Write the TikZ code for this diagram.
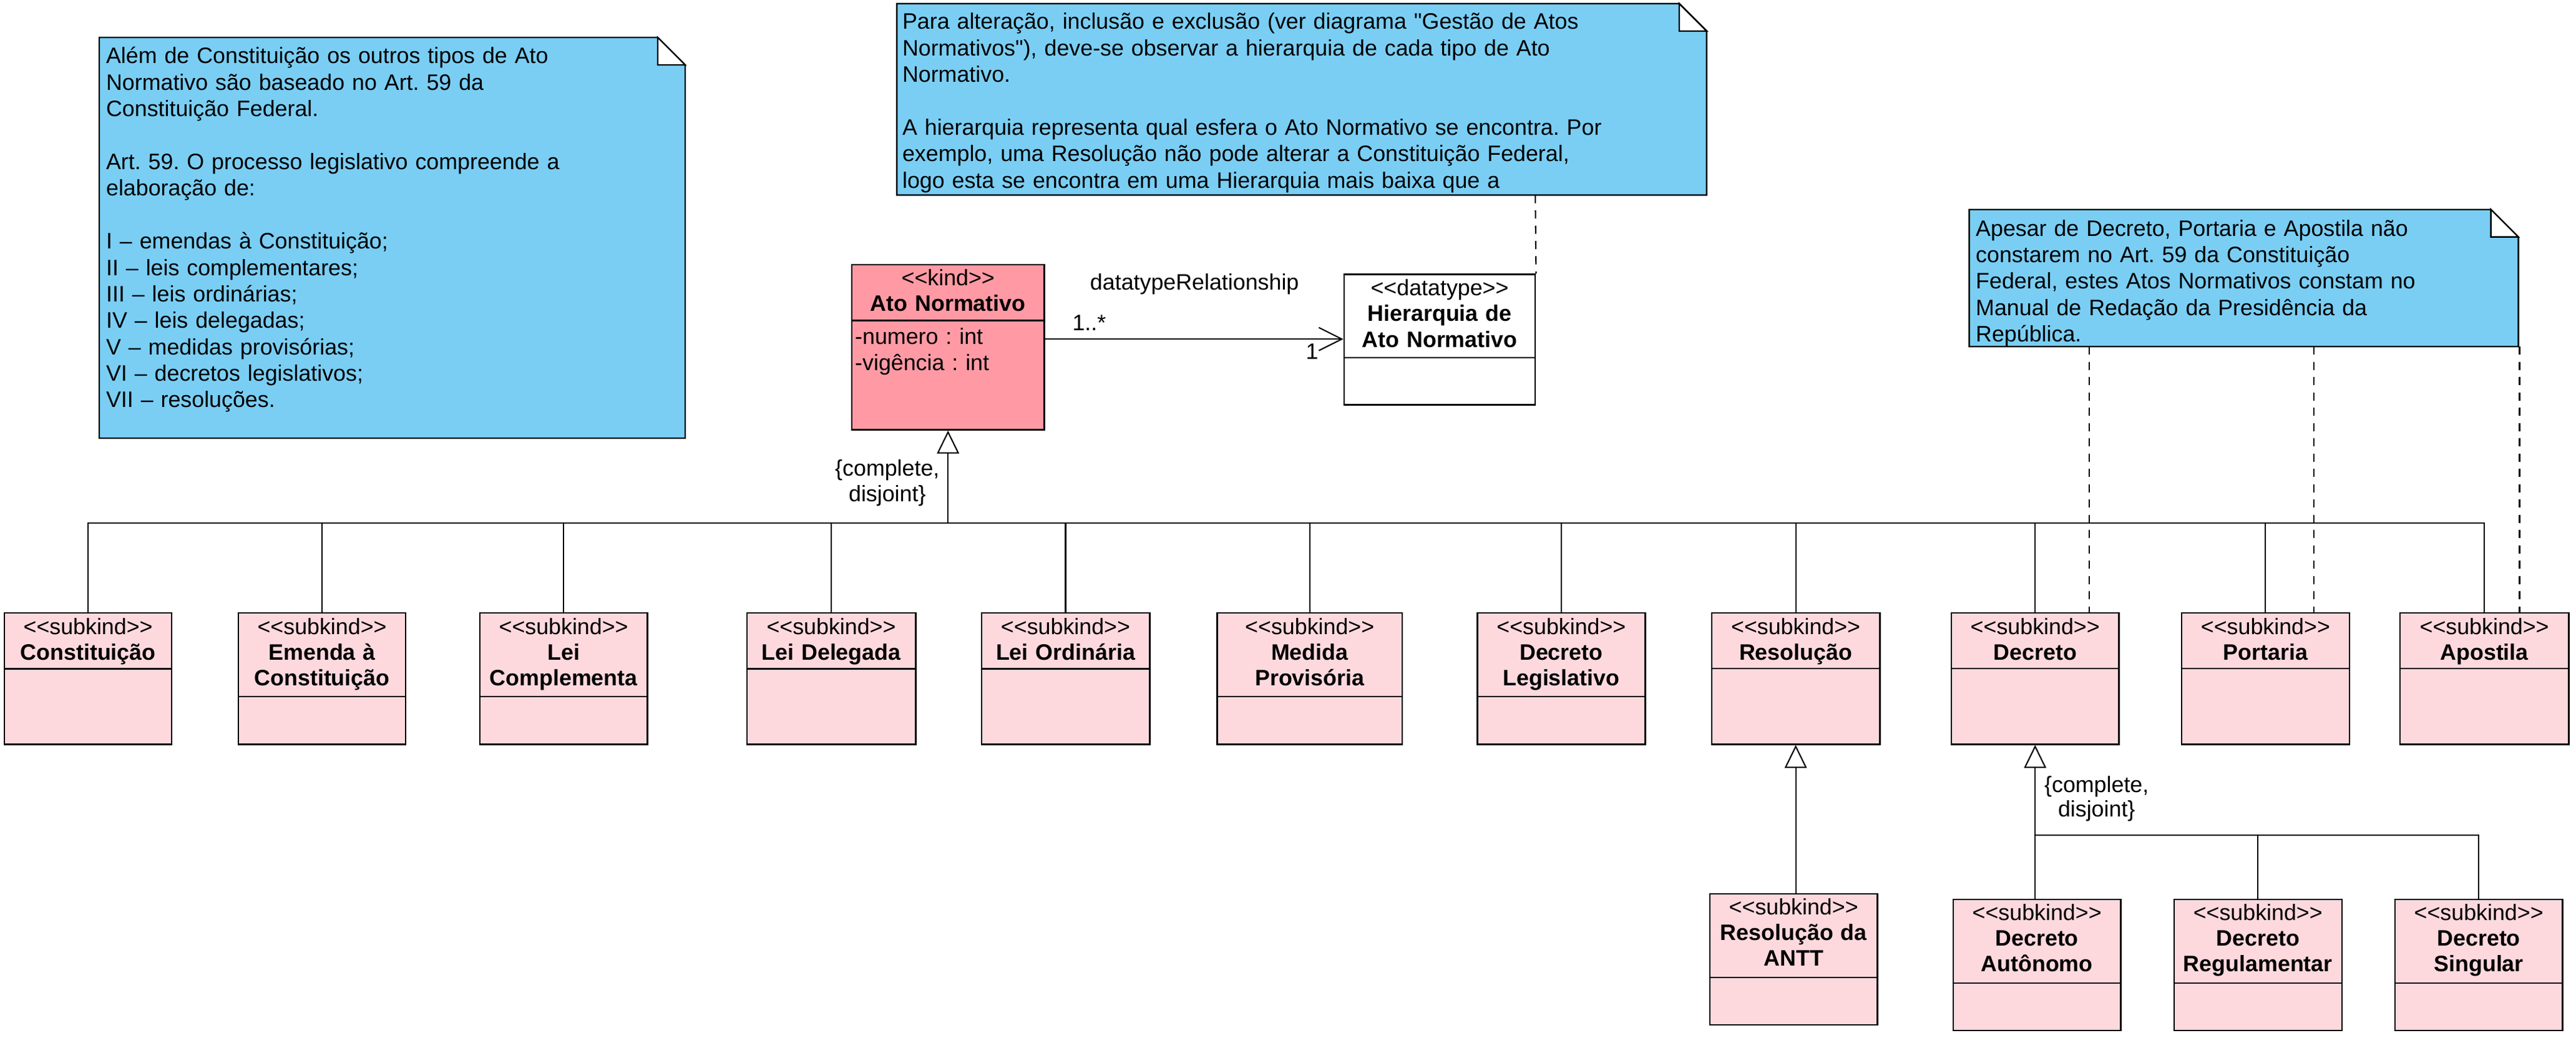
\documentclass[tikz,border=0pt]{standalone}
\usepackage{fontspec}
\newfontfamily\umlfont{Liberation Sans}
\usetikzlibrary{arrows.meta}
\definecolor{notefill}{RGB}{122,206,244}
\definecolor{kindfill}{RGB}{255,154,165}
\definecolor{subfill}{RGB}{253,217,222}
\frenchspacing

\begin{document}
\begin{tikzpicture}[x=1pt,y=-1pt,inner sep=0pt,
  font=\umlfont\fontsize{13.6}{15.7}\selectfont,
  box/.style={draw,line width=0.9pt,fill=subfill,anchor=north,minimum width=102pt,minimum height=79.8pt},
  head/.style={anchor=base,align=center,text width=110pt},
  notebox/.style={draw,line width=0.9pt,fill=notefill},
  notetext/.style={anchor=base west,align=left,text width=#1,font=\umlfont\fontsize{13.6}{16.1}\selectfont},
  line/.style={line width=0.8pt},
  gen/.style={line width=0.8pt,-{Triangle[fill=white,length=14pt,width=13.5pt]}},
  dep/.style={line width=0.8pt,dash pattern=on 5pt off 4.3pt}]
\useasboundingbox (0,0) rectangle (1567.8,631.3);

% notes
\draw[notebox] (60.4,22.8) -- (400.3,22.8) -- (417,39.5) -- (417,266.6) -- (60.4,266.6) -- cycle;
\draw[line width=0.9pt,fill=white] (400.3,22.8) -- (400.3,39.5) -- (417,39.5) -- cycle;
\node[notetext=350pt] (note1) at (64.4,38.7) {Além de Constituição os outros tipos de Ato\\Normativo são baseado no Art. 59 da\\Constituição Federal.\\[16.1pt]Art. 59. O processo legislativo compreende a\\elaboração de:\\[16.1pt]I – emendas à Constituição;\\II – leis complementares;\\III – leis ordinárias;\\IV – leis delegadas;\\V – medidas provisórias;\\VI – decretos legislativos;\\VII – resoluções.};

\draw[notebox] (545.8,2.2) -- (1022,2.2) -- (1038.7,18.9) -- (1038.7,118.7) -- (545.8,118.7) -- cycle;
\draw[line width=0.9pt,fill=white] (1022,2.2) -- (1022,18.9) -- (1038.7,18.9) -- cycle;
\node[notetext=480pt] (note2) at (549,17.8) {Para alteração, inclusão e exclusão (ver diagrama "Gestão de Atos\\Normativos"), deve-se observar a hierarquia de cada tipo de Ato\\Normativo.\\[16.1pt]A hierarquia representa qual esfera o Ato Normativo se encontra. Por\\exemplo, uma Resolução não pode alterar a Constituição Federal,\\logo esta se encontra em uma Hierarquia mais baixa que a};

\draw[notebox] (1198.5,127.5) -- (1516,127.5) -- (1532.7,144.2) -- (1532.7,210.9) -- (1198.5,210.9) -- cycle;
\draw[line width=0.9pt,fill=white] (1516,127.5) -- (1516,144.2) -- (1532.7,144.2) -- cycle;
\node[notetext=325pt] (note3) at (1202.3,143.6) {Apesar de Decreto, Portaria e Apostila não\\constarem no Art. 59 da Constituição\\Federal, estes Atos Normativos constam no\\Manual de Redação da Presidência da\\República.};

% kind and datatype
\node[box,fill=kindfill,minimum width=117.1pt,minimum height=100.5pt] (ato) at (577,160.6) {};
\draw[line width=0.9pt] (ato.west |- 0,195) -- (ato.east |- 0,195);
\node[head] (ato-t) at (577,173.8) {<<kind>>\\\bfseries Ato Normativo};
\node[anchor=base west,align=left,text width=100pt,font=\umlfont\fontsize{13.6}{16.1}\selectfont] (ato-a) at (520.2,209.4) {-numero : int\\-vigência : int};

\node[box,fill=white,minimum width=116.4pt,minimum height=79.4pt] (hier) at (876.2,166.5) {};
\draw[line width=0.9pt] (hier.west |- 0,217.6) -- (hier.east |- 0,217.6);
\node[head] (hier-t) at (876.2,179.8) {<<datatype>>\\\bfseries Hierarquia de\\Ato Normativo};

\draw[line,-{Straight Barb[length=14pt,width=14pt]}] (ato.east |- 0,206.3) -- (hier.west |- 0,206.3);
\node[anchor=base] (assoc) at (727,176.4) {datatypeRelationship};
\node[anchor=base west] (mult-a) at (652.5,201) {1..*};
\node[anchor=base west] (mult-b) at (794.6,218.7) {1};

% subkinds
\foreach \nm/\cx/\bw/\sepy/\ttl in {constituicao/53.6/101.7/406.9/{Constituição},
  emenda/196/101.8/423.9/{Emenda à\\Constituição},
  leicompl/343/102/423.9/{Lei\\Complementa},
  leidel/505.9/102.8/406.9/{Lei Delegada},
  leiord/648.5/102.4/406.9/{Lei Ordinária},
  medida/797.1/112.6/423.9/{Medida\\Provisória},
  declegis/950.2/102.1/423.9/{Decreto\\Legislativo},
  resolucao/1092.9/102.4/406.8/{Resolução},
  decreto/1238.6/102.1/406.8/{Decreto},
  portaria/1378.8/102.3/406.8/{Portaria},
  apostila/1512/102.7/406.8/{Apostila}}{
  \node[box,minimum width=\bw pt] (\nm) at (\cx,372.6) {};
  \draw[line width=0.9pt] (\nm.west |- 0,\sepy) -- (\nm.east |- 0,\sepy);
  \node[head] (\nm-t) at (\cx,385.9) {<<subkind>>\\\bfseries \ttl};
}

\foreach \nm/\cx/\ty/\ttl in {antt/1091.6/543.5/{Resolução da\\ANTT},
  autonomo/1239.7/546.9/{Decreto\\Autônomo},
  regulamentar/1374.2/546.9/{Decreto\\Regulamentar},
  singular/1508.6/546.9/{Decreto\\Singular}}{
  \node[box,minimum width=102.1pt,minimum height=79.6pt] (\nm) at (\cx,\ty) {};
  \draw[line width=0.9pt] (\nm.west |- 0,\ty+51.3) -- (\nm.east |- 0,\ty+51.3);
  \node[head] (\nm-t) at (\cx,\ty+13) {<<subkind>>\\\bfseries \ttl};
}

% generalizations
\coordinate (bus) at (577,318.1);
\draw[gen] (bus) -- (ato.south);
\draw[line] (constituicao.north) |- (bus) -| (apostila.north);
\foreach \nm in {emenda,leicompl,leidel,leiord,medida,declegis,resolucao,decreto,portaria}
  \draw[line] (\nm.north) -- (\nm.north |- bus);
\node[head,text width=80pt,font=\umlfont\fontsize{13.6}{15.6}\selectfont] (gs1) at (540,289.6) {\{complete,\\disjoint\}};

\draw[gen] (resolucao.south |- antt.north) -- (resolucao.south);

\coordinate (bus2) at (1238.6,508.3);
\draw[gen] (decreto.south |- autonomo.north) -- (decreto.south);
\draw[line] (bus2) -| (regulamentar.north);
\draw[line] (bus2) -| (singular.north);
\node[head,text width=80pt,font=\umlfont\fontsize{13.6}{14.8}\selectfont] (gs2) at (1276,482) {\{complete,\\disjoint\}};

% note links
\coordinate (n2a) at (934.4,118.7);
\draw[dep] (n2a) -- (hier.north east);
\coordinate (n3a) at (1271.5,210.9);
\coordinate (n3b) at (1408.4,210.9);
\coordinate (n3c) at (1533.4,210.9);
\draw[dep] (n3a) -- (n3a |- decreto.north);
\draw[dep] (n3b) -- (n3b |- portaria.north);
\draw[dep] (n3c) -- (n3c |- apostila.north);
\end{tikzpicture}
\end{document}
